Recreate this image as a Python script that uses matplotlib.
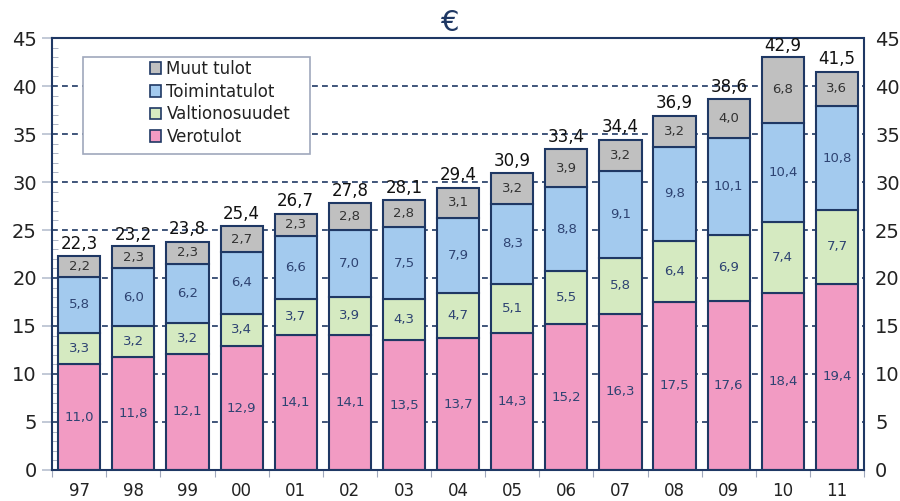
import numpy as np
import matplotlib.pyplot as plt
from matplotlib.patches import Rectangle

years = ["97", "98", "99", "00", "01", "02", "03", "04", "05", "06", "07", "08", "09", "10", "11"]
verotulot = [11.0, 11.8, 12.1, 12.9, 14.1, 14.1, 13.5, 13.7, 14.3, 15.2, 16.3, 17.5, 17.6, 18.4, 19.4]
valtionosuudet = [3.3, 3.2, 3.2, 3.4, 3.7, 3.9, 4.3, 4.7, 5.1, 5.5, 5.8, 6.4, 6.9, 7.4, 7.7]
toimintatulot = [5.8, 6.0, 6.2, 6.4, 6.6, 7.0, 7.5, 7.9, 8.3, 8.8, 9.1, 9.8, 10.1, 10.4, 10.8]
muut_tulot = [2.2, 2.3, 2.3, 2.7, 2.3, 2.8, 2.8, 3.1, 3.2, 3.9, 3.2, 3.2, 4.0, 6.8, 3.6]
totals = [22.3, 23.2, 23.8, 25.4, 26.7, 27.8, 28.1, 29.4, 30.9, 33.4, 34.4, 36.9, 38.6, 42.9, 41.5]

navy = "#1F3864"
label_navy = "#2E4372"
series = [
    ("Verotulot", verotulot, "#F29BC3", label_navy),
    ("Valtionosuudet", valtionosuudet, "#D5EAC1", label_navy),
    ("Toimintatulot", toimintatulot, "#A3CAEE", label_navy),
    ("Muut tulot", muut_tulot, "#C0C0C0", "#333333"),
]

fig = plt.figure(figsize=(9, 5.01), dpi=100)
ax = fig.add_axes([0.058, 0.062, 0.902, 0.862])
x = np.arange(len(years))

ax.set_ylim(0, 45)
ax.set_xlim(-0.5, len(years) - 0.5)

# dashed grid at every 5
for yv in range(5, 45, 5):
    ax.axhline(yv, color=navy, lw=1.2, ls=(0, (3.5, 2.5)), zorder=0)

bottom = np.zeros(len(years))
handles = []
for name, vals, color, tcol in series:
    vals = np.array(vals)
    b = ax.bar(x, vals, 0.78, bottom=bottom, color=color, edgecolor=navy,
               linewidth=1.5, zorder=2, label=name)
    handles.append(b)
    for xi, v, bt in zip(x, vals, bottom):
        ax.text(xi, bt + v / 2, f"{v:.1f}".replace(".", ","), ha="center", va="center",
                fontsize=9.5, color=tcol, zorder=3)
    bottom += vals

for xi, t in zip(x, totals):
    ax.text(xi, t + 0.35, f"{t:.1f}".replace(".", ","), ha="center", va="bottom",
            fontsize=12, color="#111111", zorder=3)

# legend box
ax.add_patch(Rectangle((0.038, 0.732), 0.28, 0.225, transform=ax.transAxes,
                       facecolor="white", edgecolor="#A0A8BC", lw=1.2, zorder=4))
leg = ax.legend(handles[::-1], [s[0] for s in series][::-1], loc="upper left",
                bbox_to_anchor=(0.112, 0.965), frameon=False, fontsize=12,
                handlelength=0.7, handleheight=0.7, handletextpad=0.3,
                labelspacing=0.28, borderaxespad=0)
leg.set_zorder(5)
for p in leg.get_patches():
    p.set_linewidth(1.2)
for t in leg.get_texts():
    t.set_color("#222222")

# axes styling
for side in ["left", "right", "bottom"]:
    ax.spines[side].set_color(navy)
    ax.spines[side].set_linewidth(1.5)
ax.spines["top"].set_color(navy)
ax.spines["top"].set_linestyle((0, (1, 1)))
ax.spines["top"].set_linewidth(1.5)

ax.set_yticks(range(0, 50, 5))
ax.set_yticks(range(0, 46), minor=True)
ax.tick_params(axis="y", which="major", direction="out", length=7, width=1.2,
               color="#B8C0D0", labelsize=14, labelcolor="#222222", pad=4)
ax.tick_params(axis="y", which="minor", direction="in", length=4, color="#A0A8BC")

ax.set_xticks(np.arange(-0.5, len(years), 1.0))
ax.set_xticklabels([])
ax.set_xticks(x, minor=True)
ax.set_xticklabels(years, minor=True)
ax.tick_params(axis="x", which="major", direction="out", length=5, color="#A0A8BC")
ax.tick_params(axis="x", which="minor", length=0, labelsize=12, pad=9, labelcolor="#222222")

ax2 = ax.twinx()
ax2.set_ylim(0, 45)
ax2.set_yticks(range(0, 50, 5))
ax2.set_yticks(range(0, 46), minor=True)
ax2.tick_params(axis="y", which="major", direction="in", length=0, labelsize=14,
                labelcolor="#222222", pad=8)
ax2.tick_params(axis="y", which="minor", direction="in", length=0)
for s in ax2.spines.values():
    s.set_visible(False)

fig.text(0.5, 0.955, "€", ha="center", va="center", fontsize=21, color=navy)

fig.savefig("out.png", dpi=100)
